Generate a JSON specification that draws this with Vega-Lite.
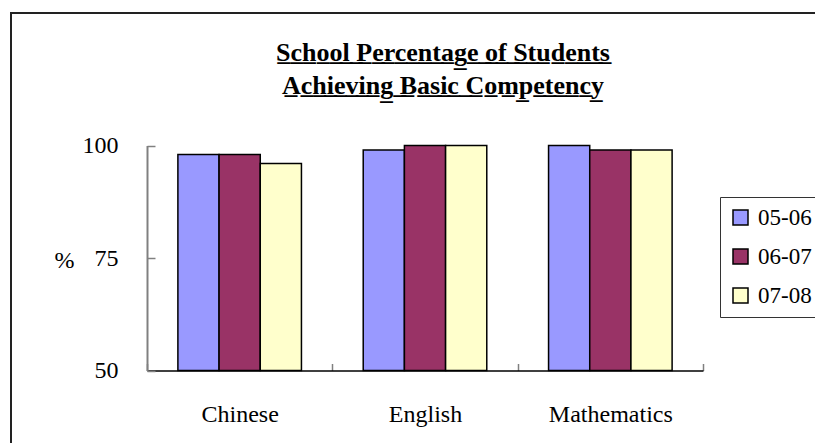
{
  "$schema": "https://vega.github.io/schema/vega-lite/v6.json",
  "width": 820,
  "height": 440,
  "autosize": {"type": "none"},
  "padding": {"left": 11, "top": 13, "right": 0, "bottom": 0},
  "background": "white",
  "config": {
    "view": {"stroke": "#222", "strokeWidth": 2},
    "font": "'Liberation Serif', 'Times New Roman', 'DejaVu Serif', serif",
    "axis": {"labelFont": "'Liberation Serif', 'Times New Roman', 'DejaVu Serif', serif", "titleFont": "'Liberation Serif', 'Times New Roman', 'DejaVu Serif', serif"},
    "legend": {"labelFont": "'Liberation Serif', 'Times New Roman', 'DejaVu Serif', serif"}
  },
  "title": {
    "text": ["S̲c̲h̲o̲o̲l̲ ̲P̲e̲r̲c̲e̲n̲t̲a̲g̲e̲ ̲o̲f̲ ̲S̲t̲u̲d̲e̲n̲t̲s̲", "A̲c̲h̲i̲e̲v̲i̲n̲g̲ ̲B̲a̲s̲i̲c̲ ̲C̲o̲m̲p̲e̲t̲e̲n̲c̲y̲"],
    "font": "'Liberation Serif', 'Times New Roman', 'DejaVu Serif', serif",
    "fontSize": 26,
    "fontWeight": "bold",
    "color": "black",
    "anchor": "middle",
    "frame": "group",
    "lineHeight": 33,
    "dx": 22,
    "dy": 90
  },
  "data": {
    "values": [
      {"subject": "Chinese", "year": "05-06", "pct": 98},
      {"subject": "Chinese", "year": "06-07", "pct": 98},
      {"subject": "Chinese", "year": "07-08", "pct": 96},
      {"subject": "English", "year": "05-06", "pct": 99},
      {"subject": "English", "year": "06-07", "pct": 100},
      {"subject": "English", "year": "07-08", "pct": 100},
      {"subject": "Mathematics", "year": "05-06", "pct": 100},
      {"subject": "Mathematics", "year": "06-07", "pct": 99},
      {"subject": "Mathematics", "year": "07-08", "pct": 99}
    ]
  },
  "mark": {"type": "bar", "stroke": "black", "strokeWidth": 1.5},
  "encoding": {
    "x": {
      "field": "subject",
      "type": "nominal",
      "sort": ["Chinese", "English", "Mathematics"],
      "scale": {"range": [136, 692], "paddingInner": 0, "paddingOuter": 0},
      "axis": {
        "title": null,
        "offset": -82.5,
        "domainColor": "black",
        "domainWidth": 1.5,
        "tickBand": "extent",
        "tickColor": "#808080",
        "tickWidth": 1.5,
        "tickSize": -7,
        "labelAngle": 0,
        "labelFontSize": 24,
        "labelColor": "black",
        "labelPadding": 39
      }
    },
    "xOffset": {
      "field": "year",
      "sort": ["05-06", "06-07", "07-08"],
      "scale": {"paddingInner": 0, "paddingOuter": 0.75}
    },
    "y": {
      "field": "pct",
      "type": "quantitative",
      "scale": {"domain": [50, 100], "range": [357.5, 132.5], "nice": false, "zero": false},
      "axis": {
        "values": [50, 75, 100],
        "offset": -136,
        "grid": false,
        "domainColor": "#808080",
        "domainWidth": 2,
        "tickColor": "#808080",
        "tickWidth": 1.5,
        "tickSize": -8,
        "labelFontSize": 24,
        "labelColor": "black",
        "labelPadding": 37,
        "title": "%",
        "titleAngle": 0,
        "titleX": -83,
        "titleY": 247,
        "titleFontSize": 24,
        "titleFontWeight": "normal",
        "titleColor": "black",
        "titleAlign": "center",
        "titleBaseline": "middle"
      }
    },
    "y2": {"datum": 50},
    "color": {
      "field": "year",
      "type": "nominal",
      "scale": {"domain": ["05-06", "06-07", "07-08"], "range": ["#9999FF", "#993366", "#FFFFCC"]},
      "legend": {
        "title": null,
        "orient": "none",
        "legendX": 709,
        "legendY": 184,
        "strokeColor": "#333",
        "fillColor": "white",
        "padding": 9,
        "symbolType": "square",
        "symbolSize": 225,
        "symbolStrokeColor": "black",
        "symbolStrokeWidth": 1.5,
        "symbolOpacity": 1,
        "labelFontSize": 23,
        "labelColor": "black",
        "labelOffset": 6,
        "rowPadding": 15
      }
    }
  }
}
